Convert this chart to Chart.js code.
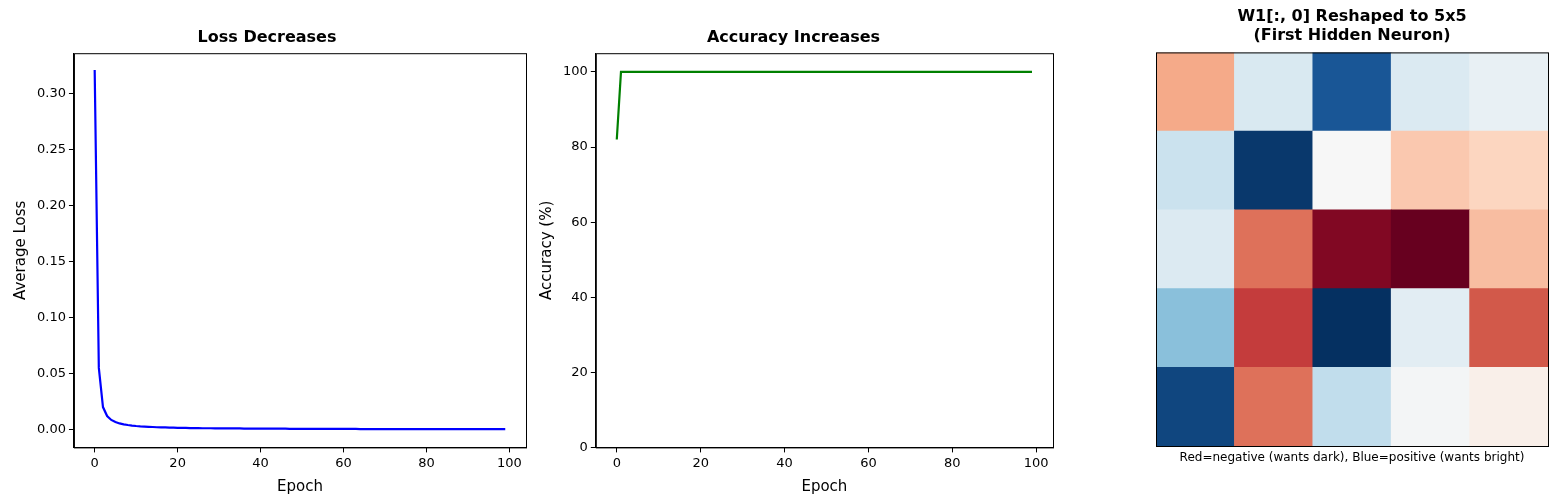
<!DOCTYPE html>
<html><head><meta charset="utf-8">
<script src="https://cdn.jsdelivr.net/npm/chart.js@4"></script>
<style>
body{margin:0;background:#fff;width:1558px;height:500px;position:relative;overflow:hidden;font-family:"DejaVu Sans"}
.c{position:absolute}
</style></head><body>
<div class="c" style="left:0;top:22px;width:540px;height:478px"><canvas id="c1"></canvas></div>
<div class="c" style="left:522px;top:22px;width:540px;height:478px"><canvas id="c2"></canvas></div>
<div class="c" style="left:1140px;top:0;width:418px;height:500px"><canvas id="c3"></canvas></div>
<script>
const epochs = Array.from({length:100},(_, i)=>i);
const lossValues = [0.321,0.055,0.020,0.012,0.0085,0.0066,0.0054,0.0046,0.0040,0.0035,
0.0031,0.0028,0.0026,0.0024,0.0022,0.0020,0.0019,0.0018,0.0017,0.0016,
0.0015,0.0014,0.0014,0.0013,0.0012,0.0012,0.0011,0.0011,0.0011,0.0010,
0.0010,0.0010,0.0009,0.0009,0.0009,0.0009,0.0008,0.0008,0.0008,0.0008,
0.0008,0.0007,0.0007,0.0007,0.0007,0.0007,0.0007,0.0006,0.0006,0.0006,
0.0006,0.0006,0.0006,0.0006,0.0005,0.0005,0.0005,0.0005,0.0005,0.0005,
0.0005,0.0005,0.0005,0.0005,0.0004,0.0004,0.0004,0.0004,0.0004,0.0004,
0.0004,0.0004,0.0004,0.0004,0.0004,0.0004,0.0004,0.0004,0.0004,0.0003,
0.0003,0.0003,0.0003,0.0003,0.0003,0.0003,0.0003,0.0003,0.0003,0.0003,
0.0003,0.0003,0.0003,0.0003,0.0003,0.0003,0.0003,0.0003,0.0003,0.0003];
const accuracyValues = [82].concat(Array(99).fill(100));
const epochTicks = [0,20,40,60,80,100];
const lossTicks = [0.00,0.05,0.10,0.15,0.20,0.25,0.30];
const accTicks = [0,20,40,60,80,100];
// W1[:,0] reshaped 5x5 (row 0 = top)
const weights = [
 [-0.38, 0.16, 0.86, 0.15, 0.08],
 [ 0.22, 0.97, 0.00,-0.27,-0.22],
 [ 0.14,-0.55,-0.93,-1.00,-0.31],
 [ 0.42,-0.70, 1.00, 0.11,-0.62],
 [ 0.92,-0.55, 0.25, 0.02,-0.06]];
const RdBu = ['#67001f','#b2182b','#d6604d','#f4a582','#fddbc7','#f7f7f7','#d1e5f0','#92c5de','#4393c3','#2166ac','#053061'];
function cmap(v){ // v in [-1,1]
  let t=(v+1)/2*10; let i=Math.min(9,Math.floor(t)); let f=t-i;
  const a=RdBu[i],b=RdBu[i+1];
  const p=(h,k)=>parseInt(h.substr(1+2*k,2),16);
  const c=[0,1,2].map(k=>Math.round(p(a,k)*(1-f)+p(b,k)*f));
  return `rgb(${c[0]},${c[1]},${c[2]})`;
}
Chart.defaults.font.family='"DejaVu Sans"';
Chart.defaults.color='#000';
Chart.defaults.animation=false;
const frame={id:'frame',afterDraw(ch){const a=ch.chartArea,x=ch.ctx;x.save();x.strokeStyle='#000';x.lineWidth=1;x.strokeRect(a.left+0.5,a.top+0.5,a.right-a.left,a.bottom-a.top);x.restore();}};
function axis(min,max,ticks,title,fmt){
  return {type:'linear',min,max,afterBuildTicks(s){s.ticks=ticks.map(v=>({value:v}));},
    ticks:{font:{size:13},callback:fmt,maxRotation:0,autoSkip:false},
    grid:{drawOnChartArea:false,drawTicks:true,tickLength:5,color:'#000'},border:{color:'#000'},
    title:{display:true,text:title,font:{size:15}}};
}
function lineChart(id,data,color,ymin,ymax,yt,ylab,title,fmt,pad){
  new Chart(document.getElementById(id),{type:'line',
    data:{datasets:[{data:epochs.map((e,i)=>({x:e,y:data[i]})),borderColor:color,borderWidth:2.2,pointRadius:0,tension:0}]},
    options:{responsive:true,maintainAspectRatio:false,layout:{padding:pad},
      plugins:{legend:{display:false},tooltip:{enabled:false},title:{display:true,text:title,font:{size:16,weight:'bold'},padding:{top:6,bottom:6}}},
      scales:{x:axis(-5,104,epochTicks,'Epoch',v=>v),y:axis(ymin,ymax,yt,ylab,fmt)}},plugins:[frame]});
}
lineChart('c1',lossValues,'#0000ff',-0.016,0.336,lossTicks,'Average Loss','Loss Decreases',v=>v.toFixed(2),{left:8,right:14,bottom:0});
lineChart('c2',accuracyValues,'#008000',0,105,accTicks,'Accuracy (%)','Accuracy Increases',v=>v,{left:12,right:9,bottom:0});
const rowsBottomUp=weights.slice().reverse();
new Chart(document.getElementById('c3'),{type:'bar',
  data:{labels:[0,1,2,3,4],datasets:rowsBottomUp.map(r=>({data:[1,1,1,1,1],backgroundColor:r.map(cmap),borderWidth:0,barPercentage:1,categoryPercentage:1}))},
  options:{responsive:true,maintainAspectRatio:false,layout:{padding:{left:16,right:10,bottom:54,top:0}},
    plugins:{legend:{display:false},tooltip:{enabled:false},
      title:{display:true,text:['W1[:, 0] Reshaped to 5x5','(First Hidden Neuron)'],font:{size:16,weight:'bold',lineHeight:1.2},padding:{top:7,bottom:7}}},
    scales:{x:{stacked:true,display:false},y:{stacked:true,display:false,min:0,max:5}}},
  plugins:[frame,{id:'cap',afterDraw(ch){const a=ch.chartArea,x=ch.ctx;x.save();x.font='12px "DejaVu Sans"';x.fillStyle='#000';x.textAlign='center';x.fillText('Red=negative (wants dark), Blue=positive (wants bright)',(a.left+a.right)/2,a.bottom+15);x.restore();}}]});
</script></body></html>
